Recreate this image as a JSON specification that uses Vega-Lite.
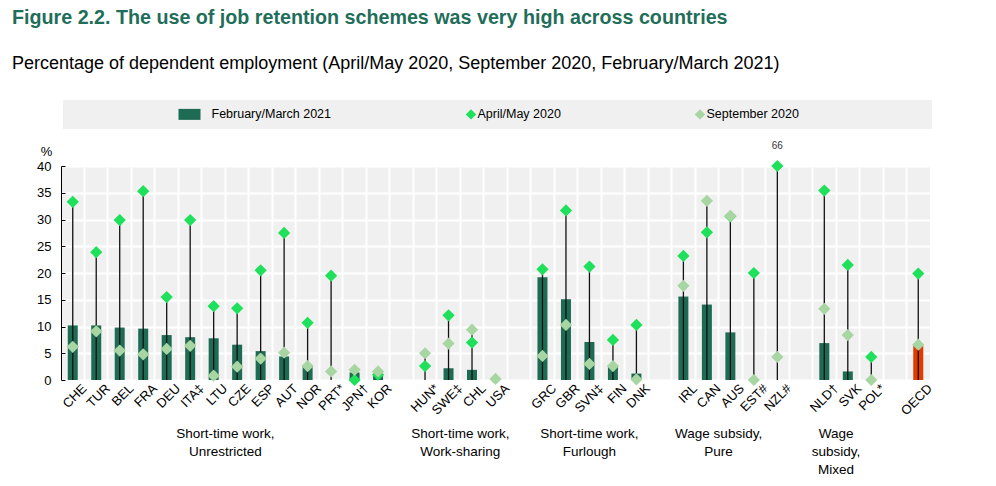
{
  "$schema": "https://vega.github.io/schema/vega-lite/v6.json",
  "width": 869,
  "height": 214,
  "autosize": {"type": "none"},
  "padding": {"left": 61, "top": 166, "right": 66, "bottom": 106},
  "config": {
    "font": "Liberation Sans",
    "view": {"fill": "#f0f0f0", "stroke": null},
    "axis": {"labelColor": "#000000", "labelFont": "Liberation Sans"},
    "axisY": {
      "title": "%",
      "titleAngle": 0,
      "titleAlign": "center",
      "titleBaseline": "middle",
      "titleX": -15,
      "titleY": -15,
      "titleFontSize": 13,
      "titleFontWeight": "normal",
      "titleColor": "#000000",
      "labelFontSize": 13,
      "labelPadding": 14,
      "labelOverlap": false,
      "tickSize": -4,
      "tickColor": "#000000",
      "domainColor": "#000000",
      "grid": true,
      "gridColor": "#ffffff",
      "gridWidth": 2
    }
  },
  "title": {
    "text": "Figure 2.2. The use of job retention schemes was very high across countries",
    "subtitle": "Percentage of dependent employment (April/May 2020, September 2020, February/March 2021)",
    "anchor": "start",
    "frame": "group",
    "dx": -49,
    "offset": 27,
    "font": "Liberation Sans",
    "fontSize": 19.7,
    "fontWeight": "bold",
    "color": "#1f6e5a",
    "subtitleFont": "Liberation Sans",
    "subtitleFontSize": 18,
    "subtitleColor": "#000000",
    "subtitlePadding": 27
  },
  "data": {
    "values": [
      {"country": "CHE", "feb": 10.2, "april": 33.3, "sept": 6.2},
      {"country": "TUR", "feb": 10.2, "april": 23.9, "sept": 9.1},
      {"country": "BEL", "feb": 9.8, "april": 29.9, "sept": 5.5},
      {"country": "FRA", "feb": 9.6, "april": 35.3, "sept": 4.8},
      {"country": "DEU", "feb": 8.4, "april": 15.5, "sept": 5.8},
      {"country": "ITA‡", "feb": 8.0, "april": 29.9, "sept": 6.4},
      {"country": "LTU", "feb": 7.8, "april": 13.8, "sept": 0.8},
      {"country": "CZE", "feb": 6.6, "april": 13.4, "sept": 2.5},
      {"country": "ESP", "feb": 5.4, "april": 20.5, "sept": 4.0},
      {"country": "AUT", "feb": 4.4, "april": 27.5, "sept": 5.1},
      {"country": "NOR", "feb": 2.7, "april": 10.7, "sept": 2.6},
      {"country": "PRT*", "feb": null, "april": 19.5, "sept": 1.6},
      {"country": "JPN†", "feb": 1.4, "april": 0.0, "sept": 1.9},
      {"country": "KOR", "feb": 1.1, "april": 1.0, "sept": 1.6},
      {"country": "HUN*", "feb": null, "april": 2.6, "sept": 5.0},
      {"country": "SWE‡", "feb": 2.2, "april": 12.1, "sept": 6.8},
      {"country": "CHL", "feb": 1.9, "april": 7.0, "sept": 9.4},
      {"country": "USA", "feb": null, "april": null, "sept": 0.2},
      {"country": "GRC", "feb": 19.2, "april": 20.7, "sept": 4.5},
      {"country": "GBR", "feb": 15.1, "april": 31.7, "sept": 10.3},
      {"country": "SVN‡", "feb": 7.1, "april": 21.2, "sept": 3.0},
      {"country": "FIN", "feb": 2.6, "april": 7.5, "sept": 2.6},
      {"country": "DNK", "feb": 1.2, "april": 10.3, "sept": 0.1},
      {"country": "IRL", "feb": 15.6, "april": 23.2, "sept": 17.6},
      {"country": "CAN", "feb": 14.1, "april": 27.6, "sept": 33.5},
      {"country": "AUS", "feb": 8.9, "april": 30.6, "sept": 30.7},
      {"country": "EST#", "feb": null, "april": 20.0, "sept": 0.0},
      {"country": "NZL#", "feb": null, "april": 66, "sept": 4.3},
      {"country": "NLD†", "feb": 6.9, "april": 35.4, "sept": 13.3},
      {"country": "SVK", "feb": 1.6, "april": 21.5, "sept": 8.4},
      {"country": "POL*", "feb": null, "april": 4.3, "sept": 0.0},
      {"country": "OECD", "feb": 6.5, "april": 19.9, "sept": 6.6}
    ]
  },
  "resolve": {"axis": {"x": "independent"}},
  "layer": [
    {
      "encoding": {
        "x": {
          "field": "country",
          "type": "nominal",
          "scale": {
            "type": "band",
            "paddingInner": 0,
            "paddingOuter": 0,
            "domain": ["CHE", "TUR", "BEL", "FRA", "DEU", "ITA‡", "LTU", "CZE", "ESP", "AUT", "NOR", "PRT*", "JPN†", "KOR", " ", "HUN*", "SWE‡", "CHL", "USA", "  ", "GRC", "GBR", "SVN‡", "FIN", "DNK", "   ", "IRL", "CAN", "AUS", "EST#", "NZL#", "    ", "NLD†", "SVK", "POL*", "     ", "OECD"]
          },
          "axis": {
            "title": null,
            "labelAngle": -45,
            "labelAlign": "right",
            "labelBaseline": "middle",
            "labelFontSize": 13,
            "labelPadding": 6,
            "labelOffset": 11.74,
            "bandPosition": 0,
            "ticks": false,
            "domain": false,
            "grid": true,
            "gridColor": "#ffffff",
            "gridWidth": 2,
            "gridOpacity": {"condition": {"test": "datum.value === 'CHE'", "value": 0}, "value": 1}
          }
        }
      },
      "layer": [
        {
          "transform": [{"filter": "datum.feb != null"}],
          "mark": {"type": "bar", "size": 10},
          "encoding": {
            "y": {
              "field": "feb",
              "type": "quantitative",
              "title": "%",
              "scale": {"domain": [0, 40], "clamp": true, "nice": false},
              "axis": {"values": [0, 5, 10, 15, 20, 25, 30, 35, 40], "title": "%"}
            },
            "color": {
              "datum": "February/March 2021",
              "condition": {"test": "datum.country === 'OECD'", "value": "#e13b00"},
              "scale": {
                "domain": ["February/March 2021", "April/May 2020", "September 2020"],
                "range": ["#1e6b54", "#1fe05a", "#a8d6a3"]
              },
              "legend": {
                "orient": "none",
                "legendX": 2,
                "legendY": -66,
                "direction": "horizontal",
                "title": "\u00a0",
                "titleOrient": "left",
                "titlePadding": 112,
                "padding": 8,
                "fillColor": "#f0f0f0",
                "columnPadding": 117,
                "labelFontSize": 12.5,
                "labelColor": "#000000",
                "labelOffset": 16,
                "labelLimit": 400,
                "symbolSize": 484,
                "symbolStrokeWidth": 0,
                "labelExpr": "datum.label === 'September 2020' ? datum.label + '\u2003\u2003\u2003\u2003\u2003\u2003\u2003\u2003\u2003\u2003\u200b' : datum.label",
                "encode": {
                  "symbols": {
                    "update": {
                      "shape": {"signal": "datum.value === 'February/March 2021' ? 'M-1,-0.5H1V0.5H-1Z' : 'diamond'"},
                      "size": {"signal": "datum.value === 'February/March 2021' ? 484 : 110"},
                      "x": {"signal": "datum.value === 'February/March 2021' ? 6.5 : 22"},
                      "strokeWidth": {"value": 0}
                    }
                  }
                }
              }
            }
          }
        },
        {
          "transform": [
            {"fold": ["feb", "april", "sept"], "as": ["series", "value"]},
            {"filter": "datum.value != null"},
            {"aggregate": [{"op": "max", "field": "value", "as": "top"}], "groupby": ["country"]}
          ],
          "mark": {"type": "rule", "color": "#111111", "strokeWidth": 1.3},
          "encoding": {
            "y": {
              "field": "top",
              "type": "quantitative",
              "title": "%",
              "axis": {"values": [0, 5, 10, 15, 20, 25, 30, 35, 40], "title": "%"}
            },
            "y2": {"datum": 0}
          }
        },
        {
          "transform": [{"filter": "datum.april != null"}],
          "mark": {"type": "point", "shape": "diamond", "filled": true, "size": 150, "opacity": 1, "strokeWidth": 0},
          "encoding": {
            "y": {
              "field": "april",
              "type": "quantitative",
              "title": "%",
              "axis": {"values": [0, 5, 10, 15, 20, 25, 30, 35, 40], "title": "%"}
            },
            "color": {"datum": "April/May 2020"}
          }
        },
        {
          "transform": [{"filter": "datum.sept != null"}],
          "mark": {"type": "point", "shape": "diamond", "filled": true, "size": 150, "opacity": 1, "strokeWidth": 0},
          "encoding": {
            "y": {
              "field": "sept",
              "type": "quantitative",
              "title": "%",
              "axis": {"values": [0, 5, 10, 15, 20, 25, 30, 35, 40], "title": "%"}
            },
            "color": {"datum": "September 2020"}
          }
        },
        {
          "transform": [{"filter": "datum.april > 40"}],
          "mark": {"type": "text", "dy": -20, "fontSize": 10, "color": "#333333"},
          "encoding": {
            "y": {
              "field": "april",
              "type": "quantitative",
              "title": "%",
              "axis": {"values": [0, 5, 10, 15, 20, 25, 30, 35, 40], "title": "%"}
            },
            "text": {"field": "april", "type": "quantitative"}
          }
        }
      ]
    },
    {
      "data": {
        "values": [
          {"anchor": "LTU"},
          {"anchor": "SWE‡"},
          {"anchor": "SVN‡"},
          {"anchor": "CAN"},
          {"anchor": "NLD†"}
        ]
      },
      "mark": {"type": "point", "opacity": 0},
      "encoding": {
        "x": {
          "field": "anchor",
          "type": "nominal",
          "scale": {"type": "band"},
          "axis": {
            "orient": "bottom",
            "title": null,
            "values": ["LTU", "SWE‡", "SVN‡", "CAN", "NLD†"],
            "labelExpr": "datum.value === 'LTU' ? ['Short-time work,', 'Unrestricted'] : datum.value === 'SWE‡' ? ['Short-time work,', 'Work-sharing'] : datum.value === 'SVN‡' ? ['Short-time work,', 'Furlough'] : datum.value === 'CAN' ? ['Wage subsidy,', 'Pure'] : ['Wage', 'subsidy,', 'Mixed']",
            "labelOffset": {"condition": {"test": "datum.value === 'SVN‡'", "value": 0}, "value": 11.74},
            "labelAngle": 0,
            "labelAlign": "center",
            "labelBaseline": "top",
            "labelPadding": 46,
            "labelFontSize": 13.5,
            "labelLineHeight": 18,
            "labelColor": "#000000",
            "ticks": false,
            "domain": false,
            "grid": false
          }
        }
      }
    }
  ]
}
